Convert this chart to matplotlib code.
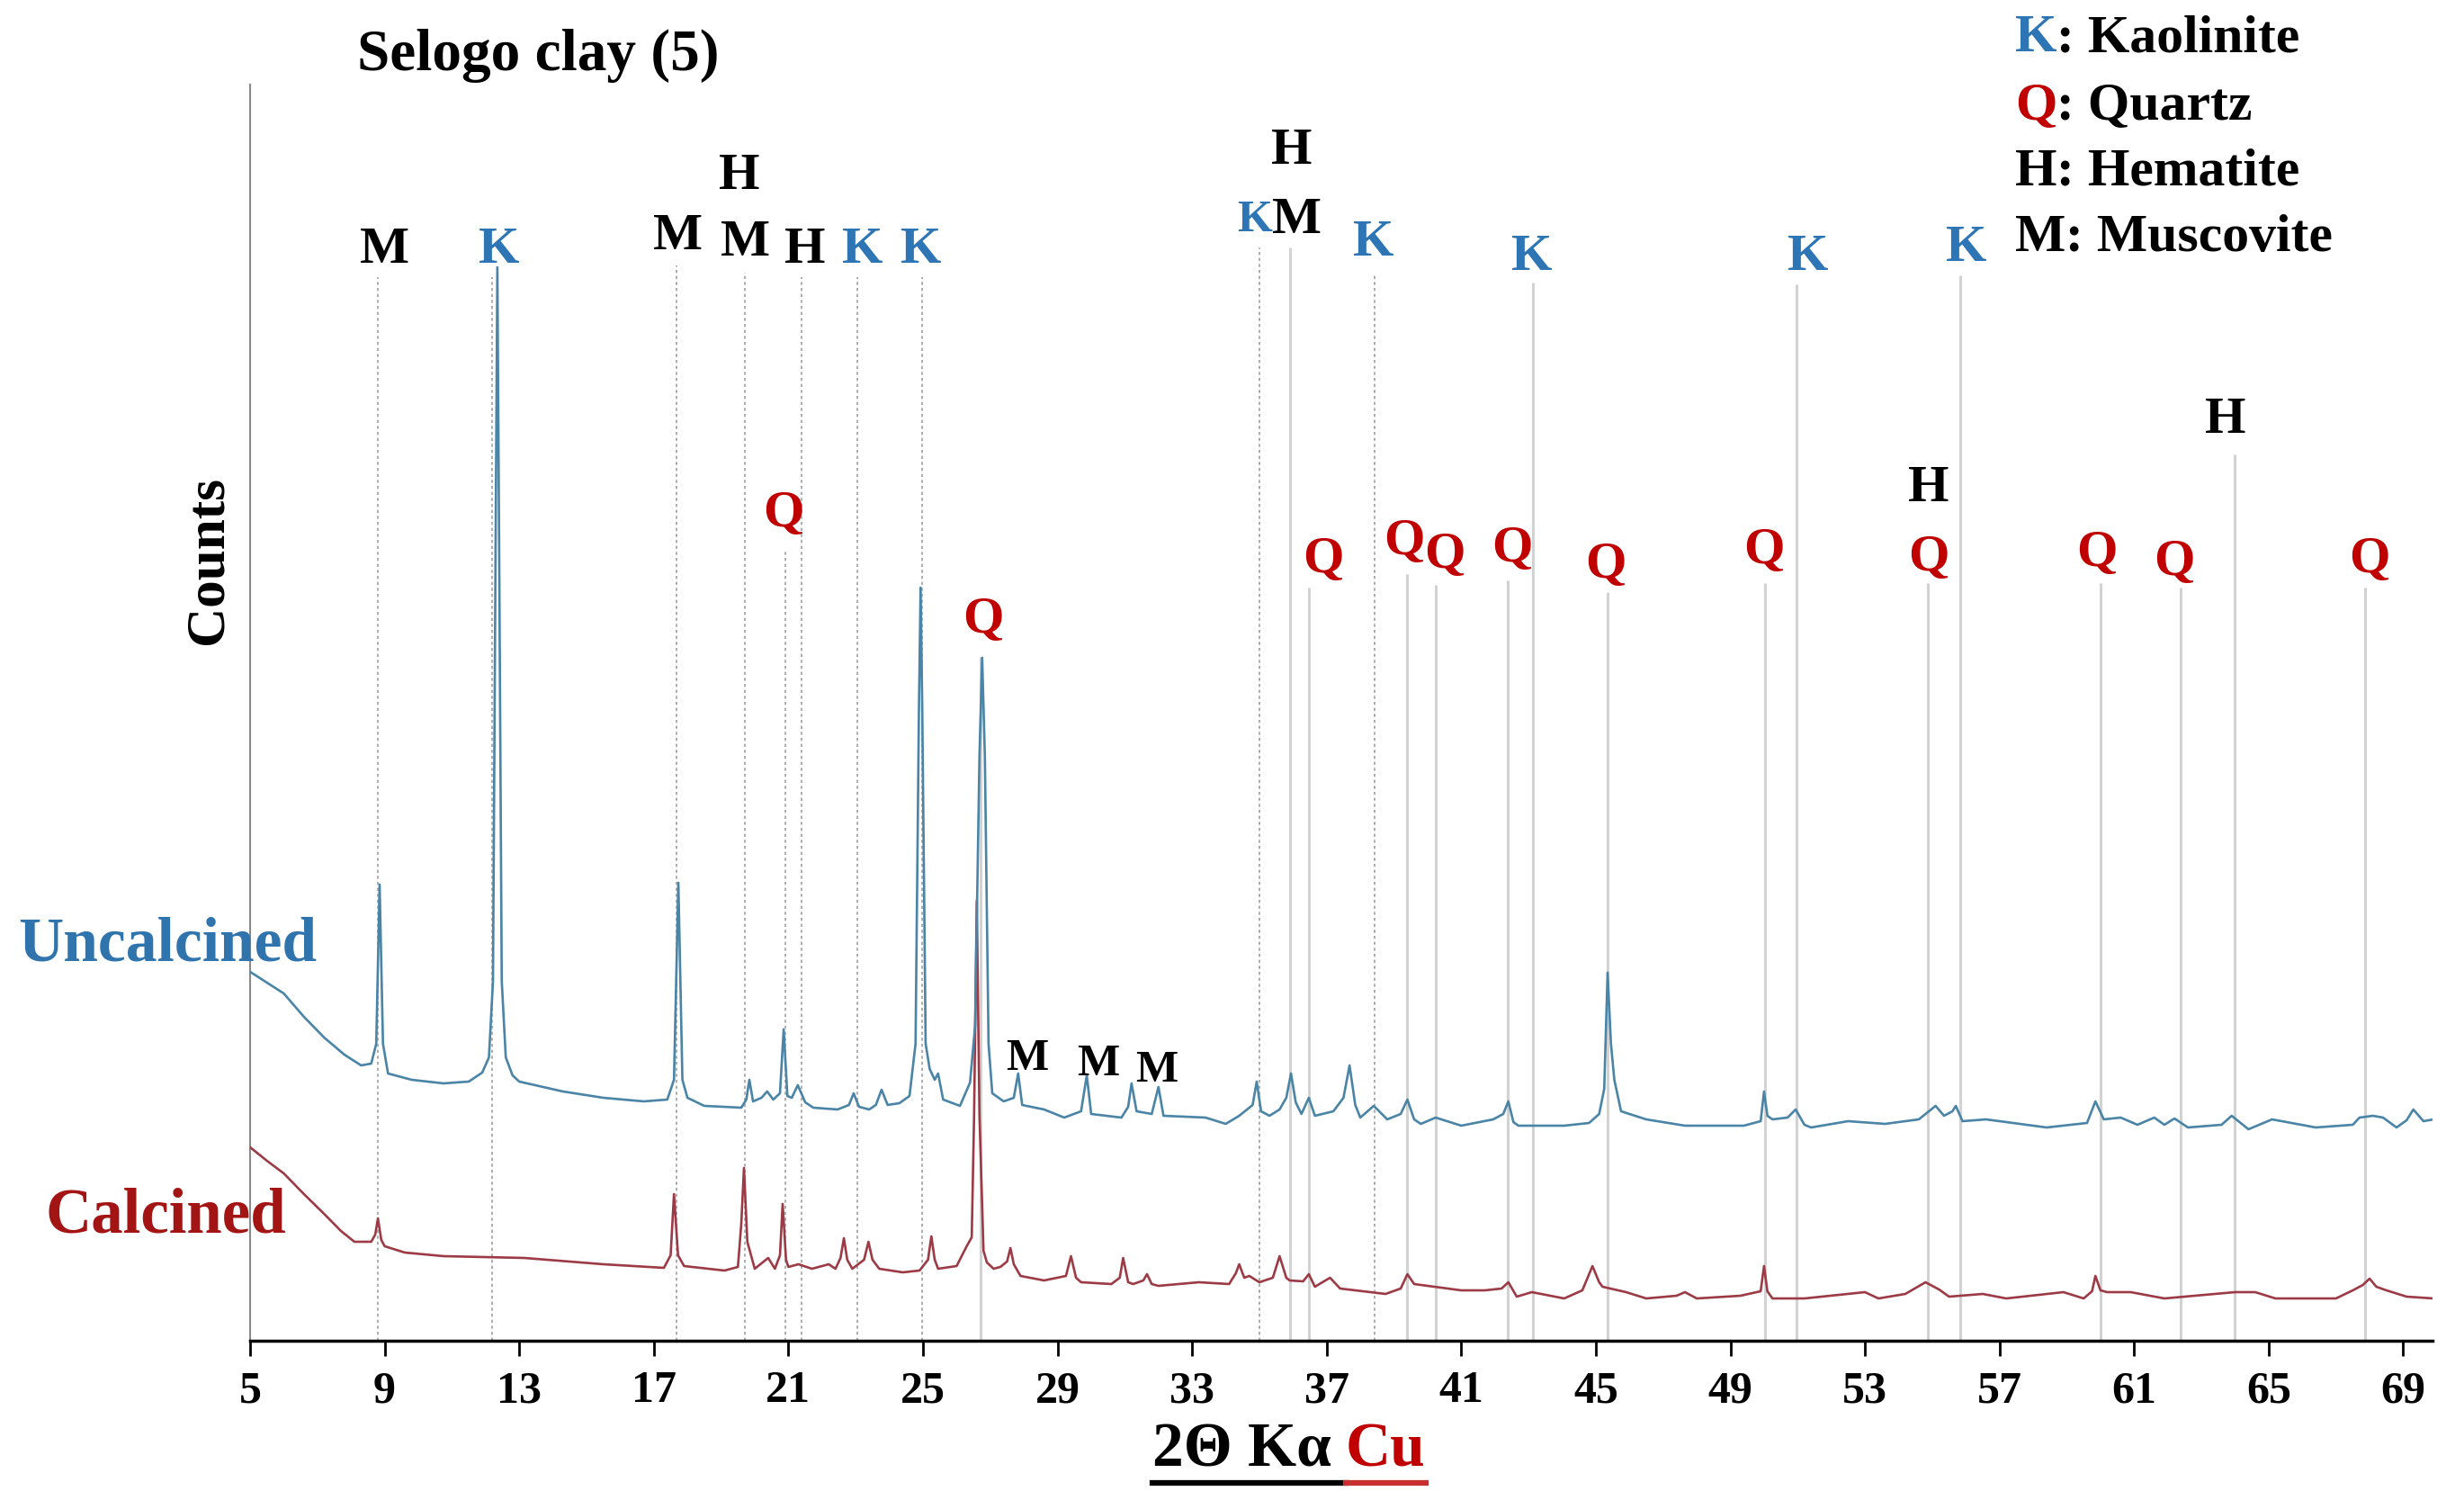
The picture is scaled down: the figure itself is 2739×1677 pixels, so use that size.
import matplotlib
matplotlib.use('Agg')
import matplotlib.pyplot as plt
from matplotlib.lines import Line2D

W, H = 2739, 1677

plt.rcParams['font.family'] = ['Liberation Serif', 'DejaVu Serif']
plt.rcParams['font.weight'] = 'bold'

# uncalcined pattern (2theta, counts)
uncal_x = [5.0, 5.5, 6.0, 6.6, 7.2, 7.8, 8.3, 8.6, 8.75, 8.85, 8.95, 9.1, 9.8, 10.75, 11.5, 11.9,
           12.1, 12.22, 12.3, 12.35, 12.4, 12.48, 12.6, 12.8, 13.0, 14.3, 15.5, 16.7, 17.4, 17.6,
           17.73, 17.85, 18.0, 18.5, 19.6, 19.75, 19.84, 19.95, 20.2, 20.37, 20.55, 20.75, 20.86,
           20.97, 21.1, 21.28, 21.5, 21.74, 22.46, 22.8, 22.94, 23.1, 23.4, 23.6, 23.77, 23.95,
           24.3, 24.6, 24.78, 24.88, 24.93, 24.98, 25.08, 25.2, 25.35, 25.45, 25.6, 26.1, 26.4,
           26.55, 26.68, 26.76, 26.84, 26.95, 27.06, 27.4, 27.7, 27.83, 27.95, 28.6, 29.2, 29.7,
           29.87, 30.0, 30.9, 31.1, 31.2, 31.35, 31.8, 32.0, 32.15, 33.4, 34.0, 34.4, 34.8, 34.92,
           35.05, 35.3, 35.6, 35.8, 35.94, 36.08, 36.25, 36.47, 36.65, 37.2, 37.5, 37.68, 37.85,
           38.0, 38.4, 38.8, 39.2, 39.4, 39.6, 39.8, 40.24, 41.0, 41.95, 42.25, 42.4, 42.55, 42.7,
           44.06, 44.8, 45.1, 45.25, 45.35, 45.45, 45.55, 45.75, 46.5, 47.65, 49.4, 49.9, 50.0,
           50.1, 50.25, 50.7, 50.94, 51.2, 51.4, 52.5, 53.6, 54.6, 54.9, 55.1, 55.35, 55.6, 55.7,
           55.9, 56.6, 58.4, 59.6, 59.85, 60.1, 60.6, 61.1, 61.6, 61.9, 62.2, 62.6, 63.6, 63.9,
           64.4, 65.1, 66.4, 67.5, 67.7, 68.1, 68.4, 68.8, 69.1, 69.3, 69.6, 69.9]
uncal_y = [410, 398, 386, 360, 337, 318, 306, 308, 330, 507, 330, 297, 290, 286, 288, 298,
           315, 400, 900, 1193, 900, 400, 315, 295, 288, 277, 270, 266, 268, 290,
           509, 290, 270, 261, 259, 268, 290, 266, 270, 277, 268, 275, 346,
           272, 270, 284, 265, 259, 257, 262, 275, 260, 257, 262, 279, 262,
           264, 272, 330, 700, 837, 700, 330, 302, 290, 297, 268, 261, 287,
           350, 650, 759, 650, 330, 275, 266, 270, 297, 262, 257, 248, 255,
           295, 252, 248, 260, 286, 255, 252, 282, 250, 248, 241, 250, 262, 288,
           255, 250, 257, 270, 297, 265, 252, 270, 250, 255, 270, 306, 262,
           248, 261, 246, 252, 268, 246, 241, 248, 239, 246, 252, 266, 243, 239,
           239, 242, 252, 280, 409, 330, 290, 255, 246, 239, 239, 244, 277,
           250, 246, 248, 257, 240, 237, 244, 241, 246, 255, 261, 250, 255, 261,
           244, 246, 237, 242, 266, 246, 248, 240, 248, 240, 247, 237, 240, 250,
           235, 246, 237, 240, 248, 250, 248, 237, 245, 257, 244, 246]

# calcined pattern
cal_x = [5.0, 5.5, 6.0, 6.6, 7.2, 7.7, 8.1, 8.6, 8.72, 8.8, 8.9, 9.0, 9.6, 10.75, 13.15, 15.5,
         17.3, 17.5, 17.6, 17.72, 17.9, 19.1, 19.5, 19.6, 19.68, 19.78, 20.0, 20.4, 20.6, 20.75,
         20.83, 20.93, 21.0, 21.3, 21.7, 22.2, 22.4, 22.55, 22.65, 22.75, 22.9, 23.25, 23.38,
         23.5, 23.7, 24.4, 24.9, 25.15, 25.25, 25.35, 25.45, 26.0, 26.3, 26.45, 26.52, 26.6,
         26.68, 26.8, 26.9, 27.1, 27.3, 27.5, 27.6, 27.7, 27.9, 28.6, 29.25, 29.4, 29.55, 29.7,
         30.6, 30.85, 30.95, 31.1, 31.25, 31.55, 31.66, 31.8, 32.0, 33.2, 34.1, 34.3, 34.4,
         34.55, 34.7, 35.0, 35.4, 35.6, 35.8, 35.9, 36.3, 36.47, 36.65, 37.1, 37.4, 38.75, 39.2,
         39.4, 39.6, 40.2, 41.0, 41.7, 42.2, 42.4, 42.65, 43.1, 44.06, 44.6, 44.9, 45.1, 45.2,
         45.9, 46.5, 47.4, 47.65, 48.0, 49.3, 49.9, 50.0, 50.1, 50.25, 51.2, 53.0, 53.4, 54.2,
         54.8, 55.2, 55.5, 56.5, 57.2, 58.9, 59.5, 59.75, 59.85, 60.0, 60.2, 60.9, 61.9, 64.0,
         64.6, 65.2, 67.0, 67.5, 67.8, 68.0, 68.2, 68.5, 69.1, 69.9]
cal_y = [215, 200, 186, 163, 141, 122, 110, 110, 118, 136, 112, 105, 98, 94, 92, 85,
         81, 95, 163, 95, 83, 78, 82, 130, 192, 110, 80, 92, 80, 95,
         152, 90, 82, 85, 80, 85, 80, 92, 114, 90, 80, 90, 110,
         90, 80, 76, 78, 90, 116, 90, 80, 83, 105, 115, 250, 489,
         250, 100, 87, 80, 82, 88, 103, 85, 72, 67, 72, 94, 70, 65,
         63, 70, 92, 65, 63, 67, 74, 63, 61, 65, 63, 75, 85,
         70, 72, 65, 70, 94, 70, 67, 66, 74, 60, 70, 58, 52, 58,
         74, 63, 60, 56, 56, 58, 65, 49, 54, 47, 56, 83, 65, 60,
         54, 47, 50, 54, 47, 50, 55, 83, 55, 47, 47, 54, 47, 52,
         65, 57, 49, 52, 47, 54, 47, 55, 72, 56, 54, 54, 47, 54,
         54, 47, 47, 56, 62, 69, 60, 56, 49, 47]

# reference lines for identified phases (position, top)
dotted_x = [8.8, 12.2, 17.67, 19.72, 20.9, 21.38, 23.05, 24.98, 35.0, 38.42]
dotted_top = [1182, 1182, 1195, 1187, 878, 1182, 1182, 1182, 1215, 1184]
solid_x = [26.7, 35.9, 36.48, 39.4, 40.24, 42.38, 43.13, 45.36, 50.04, 50.96, 54.87, 55.83,
           60.0, 62.38, 63.98, 67.86]
solid_top = [760, 1215, 837, 852, 840, 845, 1176, 832, 842, 1174, 842, 1184, 842, 837, 985, 837]

# peak labels
mark_text = ['M', 'K', 'M', 'H', 'M', 'H', 'K', 'K', 'Q', 'Q', 'H', 'M',
             'K', 'Q', 'Q', 'Q', 'Q', 'K', 'Q', 'Q', 'K', 'H', 'Q', 'K', 'Q', 'Q', 'H', 'Q']
mark_x = [9.0, 12.4, 17.72, 19.55, 19.72, 21.5, 23.2, 24.95, 20.85, 26.8, 35.96, 36.1,
          38.4, 36.9, 39.3, 40.5, 42.5, 43.1, 45.3, 50.0, 51.3, 54.9, 54.9, 56.0, 59.9, 62.2,
          63.7, 68.0]
mark_y = [1212, 1212, 1227, 1294, 1220, 1212, 1212, 1212, 919, 801, 1322, 1245,
          1220, 868, 888, 873, 880, 1204, 862, 878, 1204, 947, 870, 1214, 875, 865, 1023, 868]

# small kaolinite mark squeezed next to the muscovite one at 36
small_k_x = [34.85]
small_k_y = [1245]

low_m_x = [28.1, 30.2, 31.95]
low_m_y = [313, 307, 300]

legend_keys = ['K', 'Q', 'H', 'M']
legend_names = [': Kaolinite', ': Quartz', ': Hematite', ': Muscovite']

phase_color = {'K': '#2e75b6', 'Q': '#c00000', 'H': 'black', 'M': 'black'}

fig = plt.figure(figsize=(W / 100, H / 100), dpi=100)
ax = fig.add_axes([278 / W, 187 / H, 2426 / W, 1396 / H])

ax.vlines(dotted_x, 0, dotted_top, colors='#a0a0a0', linewidth=1.2,
          linestyles=(0, (2, 2)), zorder=1)
ax.vlines(solid_x, 0, solid_top, colors='#d2d2d2', linewidth=2.2, zorder=1)

ax.plot(cal_x, cal_y, color='#9c3b45', lw=1.9, zorder=3)
ax.plot(uncal_x, uncal_y, color='#4a84a6', lw=1.9, zorder=4)

for x, y in zip(small_k_x, small_k_y):
    ax.text(x, y, 'K', color=phase_color['K'], fontsize=36, ha='center', va='center', zorder=5)
for t, x, y in zip(mark_text, mark_x, mark_y):
    ax.text(x, y, t, color=phase_color[t], fontsize=42, ha='center', va='center', zorder=6)
for x, y in zip(low_m_x, low_m_y):
    ax.text(x, y, 'M', color='black', fontsize=36, ha='center', va='center', zorder=5)

ax.set_xlim(5, 69.87)
ax.set_ylim(0, 1396)
ax.set_xticks(range(5, 70, 4))
ax.set_yticks([])
ax.tick_params(axis='x', direction='out', length=12, width=2, pad=12, labelsize=36)
ax.spines['top'].set_visible(False)
ax.spines['right'].set_visible(False)
ax.spines['left'].set_color('#8a8a8a')
ax.spines['left'].set_linewidth(1.5)
ax.spines['bottom'].set_linewidth(2.5)

fig.text(397 / W, 1 - 62 / H, 'Selogo clay (5)', fontsize=47, ha='left', va='center')
fig.text(232 / W, 1 - 622 / H, 'Counts', fontsize=44, rotation=90, ha='center', va='center')
fig.text(20 / W, 1 - 1050 / H, 'Uncalcined', fontsize=50, color='#2f74ad',
         ha='left', va='center')
fig.text(50 / W, 1 - 1352 / H, 'Calcined', fontsize=51, color='#a31515',
         ha='left', va='center')

renderer = fig.canvas.get_renderer()

# legend: coloured letter followed by black name
for i, (k, name) in enumerate(zip(legend_keys, legend_names)):
    yc = 1 - [43, 118, 192, 265][i] / H
    t = fig.text(2240 / W, yc, k, fontsize=43, color=phase_color[k], ha='left', va='center')
    bb = t.get_window_extent(renderer)
    fig.text(bb.x1 / W, yc, name, fontsize=43, color='black', ha='left', va='center')

# x axis label with underline
yc = 1 - 1613 / H
t1 = fig.text(1281 / W, yc, '2Θ Kα', fontsize=50, ha='left', va='center')
b1 = t1.get_window_extent(renderer)
t2 = fig.text((b1.x1 + 16) / W, yc, 'Cu', fontsize=50, color='#c00000', ha='left', va='center')
b2 = t2.get_window_extent(renderer)
uy = 29 / H
fig.add_artist(Line2D([b1.x0 / W, b2.x0 / W], [uy, uy], transform=fig.transFigure,
                      color='black', lw=4.5))
fig.add_artist(Line2D([b2.x0 / W, b2.x1 / W], [uy, uy], transform=fig.transFigure,
                      color='#c83030', lw=4.5))

fig.savefig('out.png', dpi=100, facecolor='white')
